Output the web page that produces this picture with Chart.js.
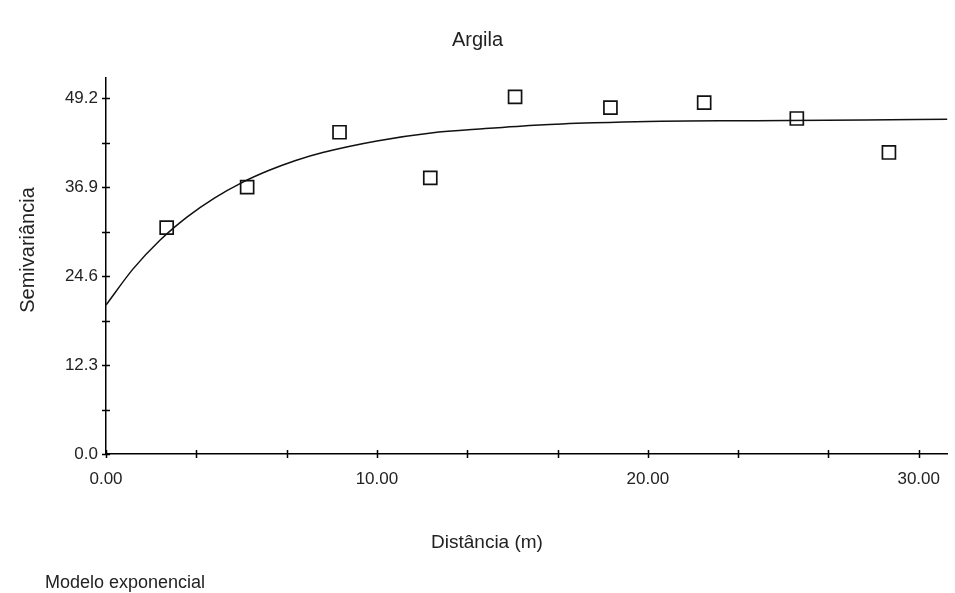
<!DOCTYPE html>
<html>
<head>
<meta charset="utf-8">
<script src="https://cdn.jsdelivr.net/npm/chart.js@4.4.1/dist/chart.umd.min.js"></script>
<style>
    html, body { margin: 0; padding: 0; background: #fff; }
    #wrap { width: 955px; height: 593px; position: relative; }
</style>
</head>
<body>
<div id="wrap"><canvas id="semivariogram"></canvas></div>
<script>
// semivariancia experimental (pontos)
const distancias = [2.24, 5.21, 8.62, 11.97, 15.10, 18.62, 22.08, 25.50, 28.90];
const semivariancias = [31.3, 36.9, 44.5, 38.2, 49.4, 47.9, 48.6, 46.4, 41.7];

// modelo exponencial
const modeloDist = [0, 1, 2, 3, 4, 5, 6, 7, 8, 10, 12, 14, 16, 18, 20, 24, 28, 31.1];
const modeloGamma = [20.6, 25.6, 29.6, 32.8, 35.4, 37.5, 39.2, 40.6, 41.7, 43.3, 44.4, 45.0, 45.5, 45.8, 46.0, 46.1, 46.2, 46.3];

// ticks dos eixos (maiores com rotulo, menores sem)
const yTicks = [0, 6.15, 12.3, 18.45, 24.6, 30.75, 36.9, 43.05, 49.2];
const yLabels = [0, 12.3, 24.6, 36.9, 49.2];
const xTicks = [0, 10 / 3, 20 / 3, 10, 40 / 3, 50 / 3, 20, 70 / 3, 80 / 3, 30];
const xLabels = [0, 10, 20, 30];

const font = 'Arial, "Liberation Sans", sans-serif';
const textColor = '#222';

const isLabel = (list, v) => list.some(l => Math.abs(l - v) < 1e-6);

// marcas de escala cruzando o eixo + textos fixos da janela
const extras = {
    id: 'extras',
    afterDraw(chart) {
        const ctx = chart.ctx;
        const xs = chart.scales.x;
        const ys = chart.scales.y;
        const area = chart.chartArea;
        ctx.save();
        ctx.strokeStyle = '#000';
        ctx.lineWidth = 1.5;
        ctx.beginPath();
        ys.ticks.forEach(t => {
            const py = Math.round(ys.getPixelForValue(t.value)) + 0.5;
            ctx.moveTo(area.left - 4, py);
            ctx.lineTo(area.left + 4, py);
        });
        xs.ticks.forEach(t => {
            const px = Math.round(xs.getPixelForValue(t.value)) + 0.5;
            ctx.moveTo(px, area.bottom - 4);
            ctx.lineTo(px, area.bottom + 4);
        });
        ctx.stroke();

        ctx.fillStyle = textColor;
        ctx.textBaseline = 'middle';
        ctx.font = '19px ' + font;
        ctx.textAlign = 'center';
        ctx.fillText('Distância (m)', 487, 543);

        ctx.font = '18px ' + font;
        ctx.textAlign = 'left';
        ctx.fillText('Modelo exponencial', 45, 583);

        ctx.translate(28, 250);
        ctx.rotate(-Math.PI / 2);
        ctx.font = '20px ' + font;
        ctx.textAlign = 'center';
        ctx.fillText('Semivariância', 0, 0);
        ctx.restore();
    }
};

new Chart(document.getElementById('semivariogram'), {
    type: 'scatter',
    data: {
        datasets: [
            {
                label: 'Modelo',
                data: modeloDist.map((d, i) => ({ x: d, y: modeloGamma[i] })),
                showLine: true,
                borderColor: '#111',
                borderWidth: 1.5,
                pointRadius: 0,
                cubicInterpolationMode: 'monotone',
                order: 2
            },
            {
                label: 'Semivariância',
                data: distancias.map((d, i) => ({ x: d, y: semivariancias[i] })),
                pointStyle: 'rect',
                pointRadius: 9.2,
                pointBorderWidth: 1.7,
                pointBorderColor: '#111',
                pointBackgroundColor: 'rgba(0,0,0,0)',
                order: 1
            }
        ]
    },
    options: {
        responsive: true,
        maintainAspectRatio: false,
        animation: false,
        layout: { padding: 0, autoPadding: false },
        plugins: {
            legend: { display: false },
            tooltip: { enabled: false },
            title: {
                display: true,
                text: 'Argila',
                color: textColor,
                font: { family: font, size: 20, weight: 'normal' },
                padding: { top: 28, bottom: 26 }
            }
        },
        scales: {
            x: {
                type: 'linear',
                min: 0,
                max: 31.05,
                afterFit: s => { s.height = 139; },
                afterBuildTicks: s => { s.ticks = xTicks.map(v => ({ value: v })); },
                border: { color: '#000', width: 1.5 },
                grid: { display: false, drawTicks: false },
                ticks: {
                    color: textColor,
                    padding: 15,
                    maxRotation: 0,
                    autoSkip: false,
                    font: { family: font, size: 17 },
                    callback: v => isLabel(xLabels, v) ? v.toFixed(2) : ''
                }
            },
            y: {
                type: 'linear',
                min: 0,
                max: 52,
                afterFit: s => { s.width = 106; },
                afterBuildTicks: s => { s.ticks = yTicks.map(v => ({ value: v })); },
                border: { color: '#000', width: 1.5 },
                grid: { display: false, drawTicks: false },
                ticks: {
                    color: textColor,
                    padding: 8,
                    autoSkip: false,
                    font: { family: font, size: 17 },
                    callback: v => isLabel(yLabels, v) ? v.toFixed(1) : ''
                }
            }
        }
    },
    plugins: [extras]
});
</script>
</body>
</html>
